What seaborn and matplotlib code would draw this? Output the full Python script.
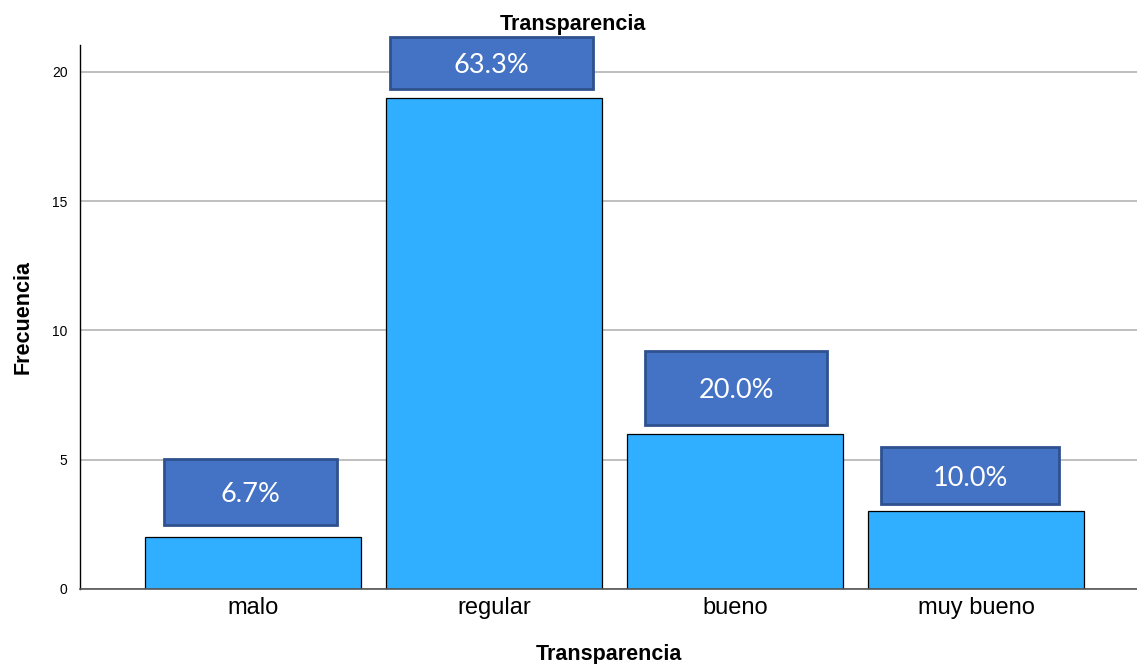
import pandas as pd
import seaborn as sns
import matplotlib.pyplot as plt
from matplotlib.patches import Rectangle

# Data
categorias = ["malo", "regular", "bueno", "muy bueno"]
frecuencia = [2, 19, 6, 3]
porcentajes = ["6.7%", "63.3%", "20.0%", "10.0%"]

# Layout of the percentage boxes (in axis units, relative to each bar)
box_ancho = [0.72, 0.84, 0.755, 0.74]
box_alto = [2.55, 2.0, 2.87, 2.2]
box_gap = [0.48, 0.34, 0.34, 0.29]
box_dx = [-0.01, -0.01, 0.005, -0.025]

sns.set_theme(style="white")
plt.rcParams['font.family'] = ['Liberation Sans', 'DejaVu Sans']
plt.rcParams['text.color'] = 'black'
plt.rcParams['axes.labelcolor'] = 'black'

df = pd.DataFrame({"Transparencia": categorias, "Frecuencia": frecuencia})

fig = plt.figure(figsize=(11.37, 6.64), dpi=100)
ax = fig.add_axes([0.0704, 0.113, 0.9296, 0.8192])

ax.yaxis.grid(True, color="#b4b4b4", linewidth=1.2)
ax.set_axisbelow(True)

sns.barplot(data=df, x="Transparencia", y="Frecuencia", order=categorias,
            color="#30aeff", saturation=1, width=0.896,
            edgecolor="black", linewidth=0.9, ax=ax)

for i, (v, txt) in enumerate(zip(frecuencia, porcentajes)):
    cx = i + box_dx[i]
    y0 = v + box_gap[i]
    ax.add_patch(Rectangle((cx - box_ancho[i] / 2, y0), box_ancho[i], box_alto[i],
                           facecolor="#4472c4", edgecolor="#2f528f", linewidth=2,
                           clip_on=False, zorder=5))
    ax.text(cx, y0 + box_alto[i] / 2 - 0.1, txt, ha="center", va="center",
            color="white", fontsize=19.5, family=["Lato", "DejaVu Sans"], zorder=6)

ax.set_xlim(-0.718, 3.668)
ax.set_ylim(0, 21.04)
ax.set_yticks([0, 5, 10, 15, 20])

ax.tick_params(axis="y", labelsize=10, length=0, pad=9, colors="black")
ax.tick_params(axis="x", labelsize=17, length=0, pad=6, colors="black")
for lbl in ax.get_xticklabels():
    lbl.set_x(lbl.get_position()[0])

for s in ["top", "right"]:
    ax.spines[s].set_visible(False)
ax.spines["left"].set_color("black")
ax.spines["left"].set_linewidth(1)
ax.spines["bottom"].set_color("#555555")
ax.spines["bottom"].set_linewidth(1.2)

ax.set_xlabel("Transparencia", fontsize=15.5, fontweight="bold", labelpad=18)
ax.set_ylabel("Frecuencia", fontsize=15.5, fontweight="bold", labelpad=13)
fig.text(0.504, 0.963, "Transparencia", ha="center", va="center",
         fontsize=15.5, fontweight="bold")

fig.savefig("out.png", dpi=100)
